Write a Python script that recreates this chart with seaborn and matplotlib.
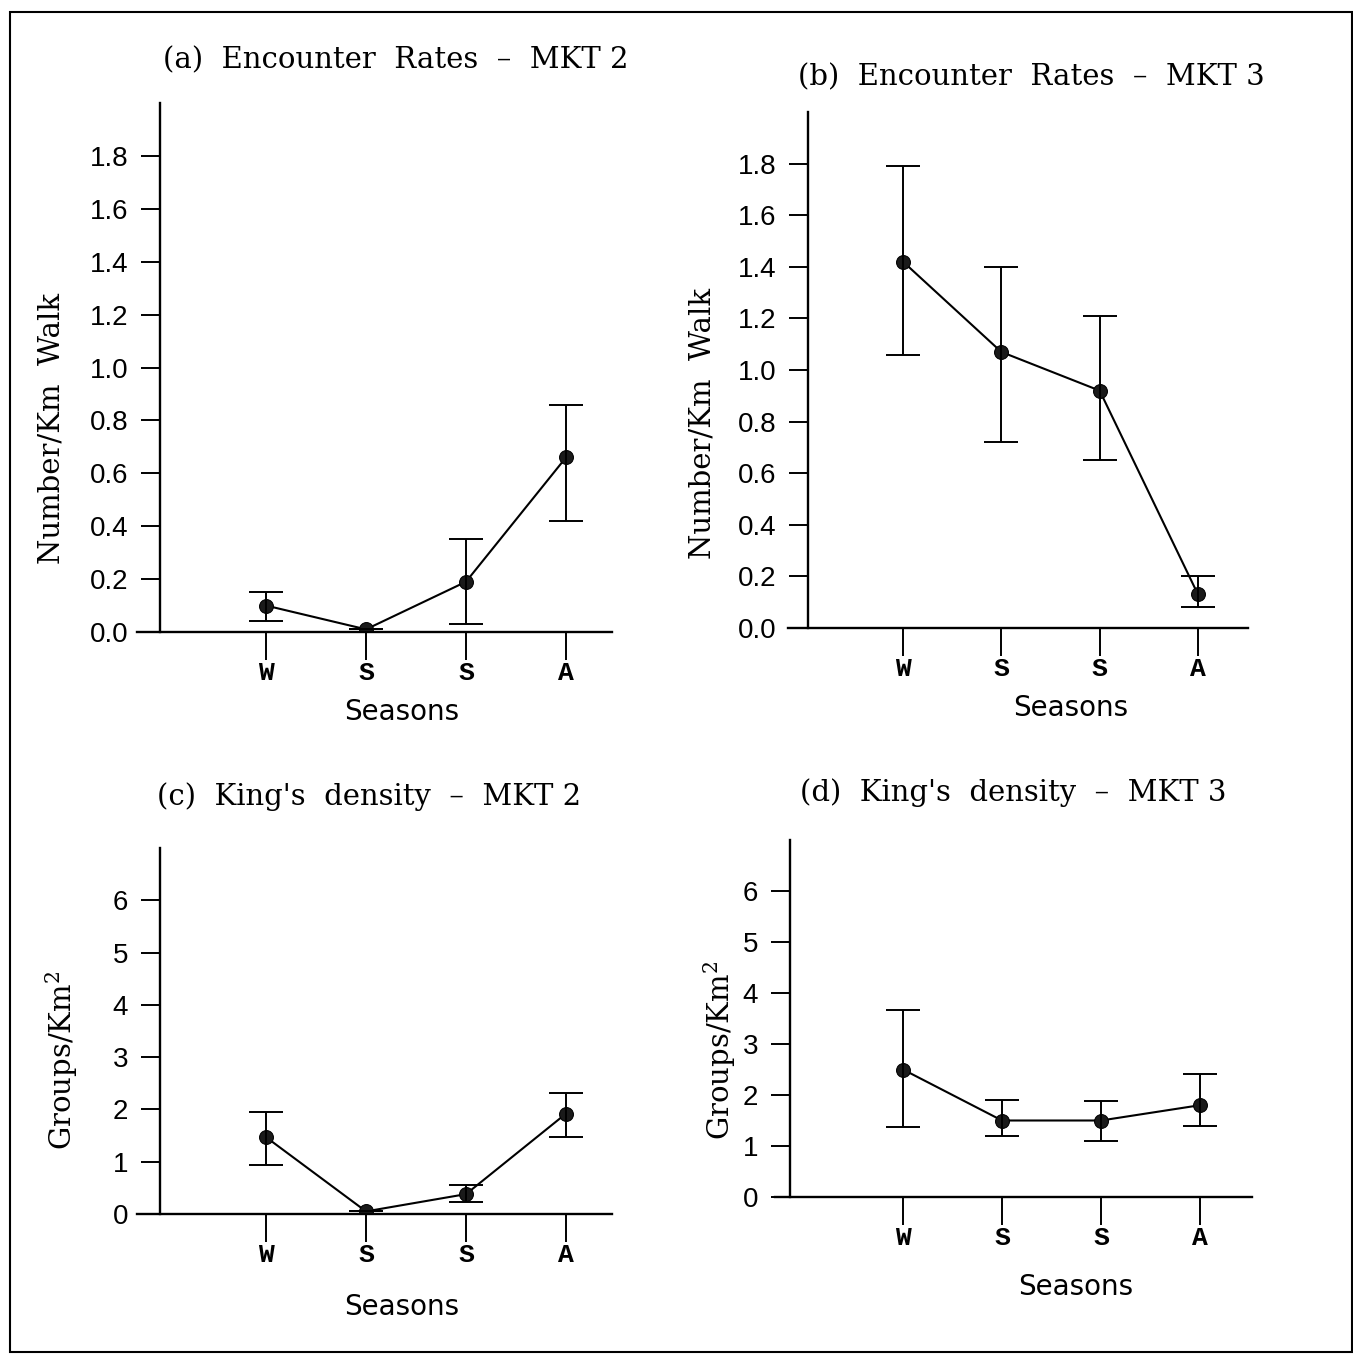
import matplotlib
matplotlib.use("Agg")
import matplotlib.pyplot as plt
import seaborn as sns
import numpy as np
import pandas as pd
from matplotlib.patches import Rectangle

sns.set_theme(style="white")
plt.rcParams['font.family'] = ['DejaVu Sans']
plt.rcParams['text.color'] = 'black'
plt.rcParams['xtick.color'] = 'black'
plt.rcParams['ytick.color'] = 'black'

seasons = ["W", "S", "S", "A"]
positions = [1, 2, 3, 4]

enc_mkt2 = [0.10, 0.01, 0.19, 0.66]
enc_mkt2_lo = [0.04, 0.01, 0.03, 0.42]
enc_mkt2_hi = [0.15, 0.01, 0.35, 0.86]

enc_mkt3 = [1.42, 1.07, 0.92, 0.13]
enc_mkt3_lo = [1.06, 0.72, 0.65, 0.08]
enc_mkt3_hi = [1.79, 1.40, 1.21, 0.20]

king_mkt2 = [1.47, 0.05, 0.38, 1.92]
king_mkt2_lo = [0.93, 0.05, 0.22, 1.47]
king_mkt2_hi = [1.95, 0.05, 0.55, 2.32]

king_mkt3 = [2.50, 1.50, 1.50, 1.80]
king_mkt3_lo = [1.37, 1.20, 1.10, 1.40]
king_mkt3_hi = [3.67, 1.90, 1.88, 2.42]

enc_ticks = [0.0, 0.2, 0.4, 0.6, 0.8, 1.0, 1.2, 1.4, 1.6, 1.8]
king_ticks = [0, 1, 2, 3, 4, 5, 6]

W, H = 1353, 1358
fig = plt.figure(figsize=(W / 100, H / 100), dpi=100)

serif = ['DejaVu Serif']
mono = ['Liberation Mono']


def make_panel(rect, yaxis_px, w_px, a_px, vals, lo, hi, ticks, ylim, title, title_xy,
               ylabel, ylabel_xy, fmt, seasons_xy):
    l, t, r, b = rect
    sp = (a_px - w_px) / 3.0
    xlo = 1 - (w_px - l) / sp
    xhi = 4 + (r - a_px) / sp
    yax = 1 - (w_px - yaxis_px) / sp
    ax = fig.add_axes([l / W, 1 - b / H, (r - l) / W, (b - t) / H])
    ax.patch.set_alpha(0)
    df = pd.DataFrame({"pos": positions, "val": vals})
    sns.lineplot(data=df, x="pos", y="val", ax=ax, color="black", linewidth=1.5,
                 marker="o", markersize=10, markeredgecolor="black",
                 markerfacecolor="#1a1a1a")
    v = np.array(vals)
    yerr = np.vstack([v - np.array(lo), np.array(hi) - v])
    ax.errorbar(positions, vals, yerr=yerr, fmt="none", ecolor="black",
                elinewidth=1.4, capsize=12, capthick=1.4)
    ax.set_xlim(xlo, xhi)
    ax.set_ylim(*ylim)
    ax.spines['top'].set_visible(False)
    ax.spines['right'].set_visible(False)
    ax.spines['left'].set_position(('data', yax))
    for s in ['left', 'bottom']:
        ax.spines[s].set_color('black')
        ax.spines[s].set_linewidth(1.7)
    ax.set_yticks(ticks)
    ax.set_yticklabels([fmt.format(x) for x in ticks], fontsize=20,
                       family=['Liberation Sans'])
    ax.set_xticks(positions)
    ax.set_xticklabels(seasons, fontsize=19, family=mono, fontweight='bold')
    ax.tick_params(axis='y', direction='out', length=14, width=1.4, color='black', pad=9,
                   left=True)
    ax.tick_params(axis='x', direction='out', length=20, width=1.4, color='black', pad=1,
                   bottom=True)
    ax.set_xlabel("")
    ax.set_ylabel("")
    fig.text(title_xy[0] / W, 1 - title_xy[1] / H, title, fontsize=21, family=serif,
             ha='center', va='center')
    fig.text(ylabel_xy[0] / W, 1 - ylabel_xy[1] / H, ylabel, fontsize=21, family=serif,
             rotation=90, ha='center', va='center')
    fig.text(seasons_xy[0] / W, 1 - seasons_xy[1] / H, "Seasons", fontsize=20,
             family=['DejaVu Sans'], ha='center', va='center')
    return ax


make_panel((137, 103, 612, 632), 160, 266, 566, enc_mkt2, enc_mkt2_lo, enc_mkt2_hi,
           enc_ticks, (0, 2.0), "(a)  Encounter  Rates  –  MKT 2", (396, 60),
           "Number/Km  Walk", (52, 428), "{:.1f}", (402, 712))
make_panel((788, 112, 1248, 628), 808, 903, 1198, enc_mkt3, enc_mkt3_lo, enc_mkt3_hi,
           enc_ticks, (0, 2.0), "(b)  Encounter  Rates  –  MKT 3", (1031, 77),
           "Number/Km  Walk", (703, 423), "{:.1f}", (1071, 708))
make_panel((137, 848, 612, 1214), 160, 266, 566, king_mkt2, king_mkt2_lo, king_mkt2_hi,
           king_ticks, (0, 7.0), "(c)  King's  density  –  MKT 2", (369, 797),
           "Groups/Km$^{\\mathdefault{2}}$", (62, 1060), "{:d}", (402, 1307))
make_panel((775, 840, 1252, 1197), 790, 903, 1200, king_mkt3, king_mkt3_lo, king_mkt3_hi,
           king_ticks, (0, 7.0), "(d)  King's  density  –  MKT 3", (1013, 793),
           "Groups/Km$^{\\mathdefault{2}}$", (720, 1050), "{:d}", (1076, 1287))

fig.patches.append(Rectangle((10 / W, 1 - 1352 / H), 1342 / W, 1340 / H,
                             transform=fig.transFigure, fill=False,
                             edgecolor='black', linewidth=1.5))

fig.savefig("out.png", dpi=100, facecolor="white")
